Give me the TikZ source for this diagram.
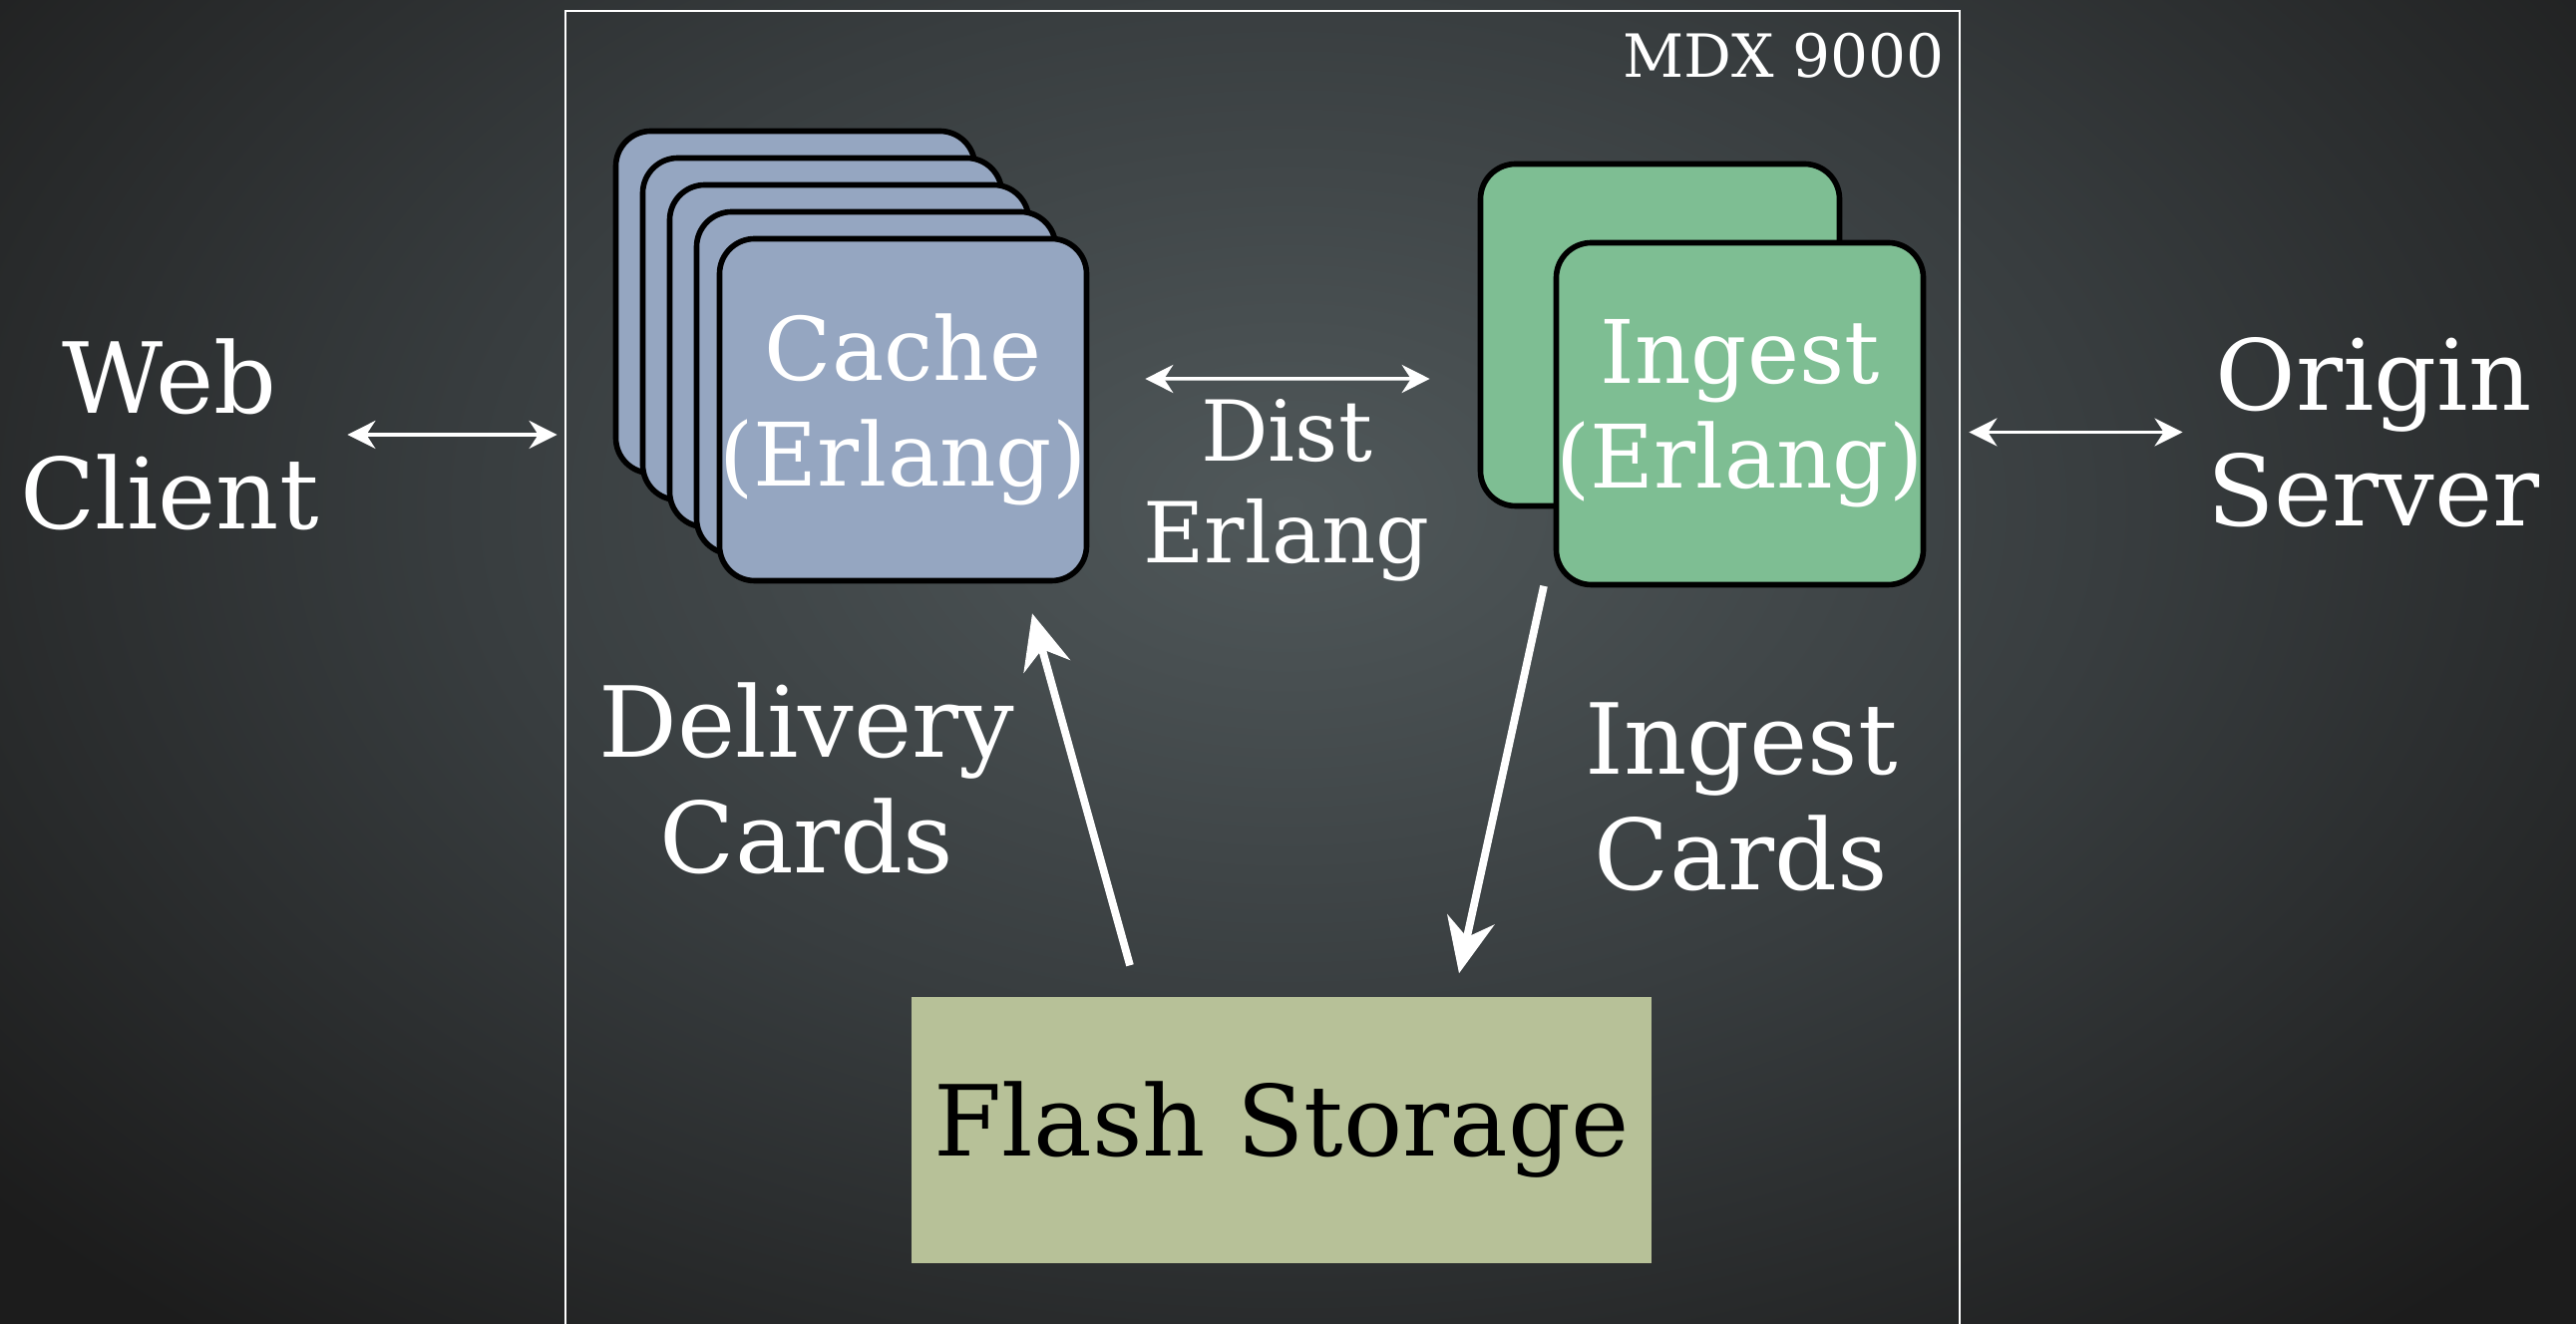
\documentclass[tikz,border=0pt]{standalone}
\usepackage{fontspec}
\setmainfont{DejaVu Serif}
\usetikzlibrary{arrows.meta,positioning}

\definecolor{bgin}{RGB}{80,88,90}
\definecolor{bgmid}{RGB}{56,61,63}
\definecolor{bgout}{RGB}{28,28,28}
\definecolor{cachefill}{RGB}{149,166,193}
\definecolor{ingestfill}{RGB}{126,190,147}
\definecolor{flashfill}{RGB}{183,193,152}

\pgfdeclareradialshading{slide}{\pgfpoint{0bp}{0bp}}{%
  color(0bp)=(bgin); color(16bp)=(bgmid); color(33bp)=(bgout); color(50bp)=(bgout)}

\begin{document}
\begin{tikzpicture}[
    card/.style={
        rectangle,
        rounded corners=10pt,
        draw=black,
        line width=1.6pt,
        minimum width=3.6cm,
        minimum height=3.43cm,
        inner sep=0pt,
        text=white,
        align=center,
        font=\fontsize{25}{30}\selectfont
      },
    cachecard/.style={card, fill=cachefill},
    ingestcard/.style={card, fill=ingestfill},
    bigtext/.style={text=white, align=center, inner sep=0pt, font=\fontsize{28}{33}\selectfont},
    midtext/.style={bigtext, font=\fontsize{24}{29}\selectfont},
    twoway/.style={{Stealth[length=2.8mm,width=2.8mm]}-{Stealth[length=2.8mm,width=2.8mm]}, white, line width=1pt},
    oneway/.style={-{Stealth[length=5.5mm,width=4.8mm]}, white, line width=2.2pt}
  ]

  % Background
  \useasboundingbox (0,0) rectangle (25.83,13.28);
  \shade[shading=slide] (0,0) rectangle (25.83,16.4);

  % Box
  \node[rectangle, draw=white, line width=0.8pt, minimum width=13.98cm, minimum height=14.2cm] (mdx) at (12.66,6.07) {};
  \node[anchor=east, text=white, inner sep=0pt, font=\fontsize{17}{20}\selectfont] (mdxlabel) at ([xshift=-1.6mm, yshift=-4.65mm]mdx.north east) {MDX 9000};

  % Nodes
  \foreach \i in {4,3,2,1}
    \node[cachecard, xshift=-\i*2.7mm, yshift=\i*2.7mm] (cache\i) at (9.055,9.17) {};
  \node[cachecard] (cache) at (9.055,9.17) {Cache\\(Erlang)};

  \node[ingestcard] (ingestback) at (16.645,9.92) {};
  \node[ingestcard] (ingest) at (17.445,9.13) {Ingest\\(Erlang)};

  \node[rectangle, fill=flashfill, minimum width=7.42cm, minimum height=2.67cm, font=\fontsize{28}{33}\selectfont] (flash) at (12.85,1.945) {Flash Storage};

  \node[bigtext] (web) at (1.70,8.92) {Web\\Client};
  \node[bigtext] (origin) at (23.80,8.945) {Origin\\Server};
  \node[midtext] (dist) at (12.90,8.36) {Dist\\Erlang};
  \node[bigtext] (delivery) at (8.09,5.47) {Delivery\\Cards};
  \node[bigtext] (ingestcards) at (17.46,5.29) {Ingest\\Cards};

  % Arrows
  \draw[twoway, shorten <=2.8mm, shorten >=0.7mm] (web) -- (web -| mdx.west);
  \draw[twoway, shorten <=0.8mm, shorten >=2.4mm] (origin -| mdx.east) -- (origin);
  \draw[twoway] ([xshift=5.6mm, yshift=3.1mm]cache.east) -- ([xshift=-4.8mm, yshift=-4.4mm]ingestback.west);
  \draw[oneway] ([xshift=-15.2mm, yshift=3.1mm]flash.north) -- ([xshift=12.95mm, yshift=-3mm]cache.south);
  \draw[oneway] ([xshift=-19.65mm, yshift=0.15mm]ingest.south) -- ([xshift=17.8mm, yshift=2.3mm]flash.north);

\end{tikzpicture}
\end{document}
